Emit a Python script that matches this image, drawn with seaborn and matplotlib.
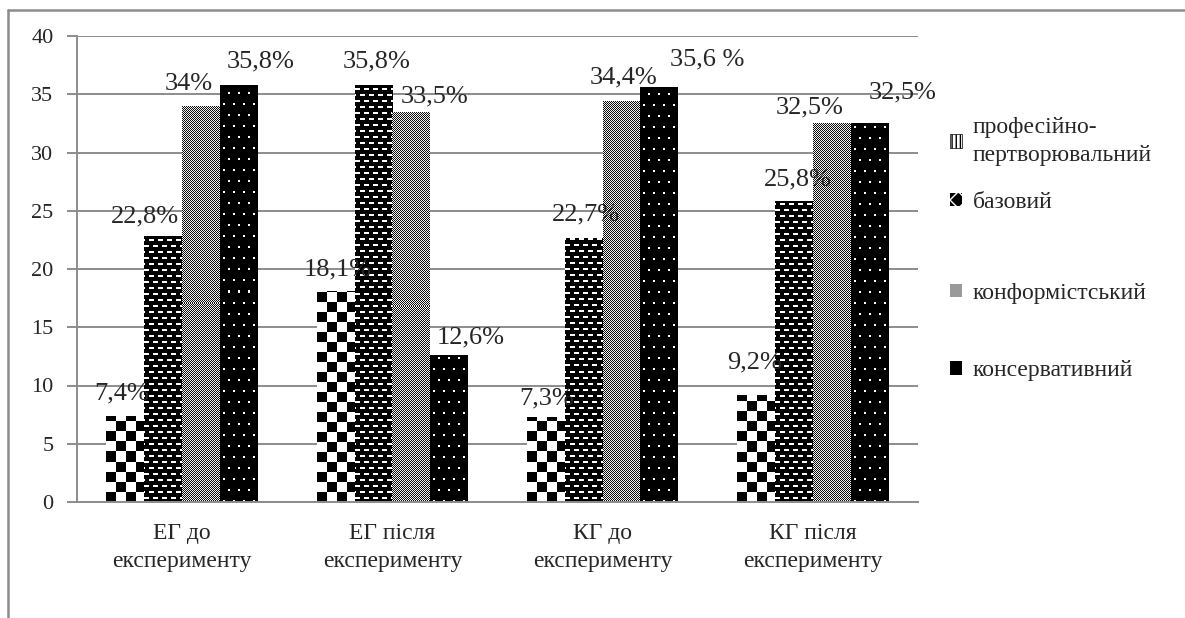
import numpy as np
import pandas as pd
import matplotlib
matplotlib.use("Agg")
from matplotlib import pyplot as plt
from matplotlib.patches import Patch
import seaborn as sns

# data
groups = ["ЕГ до\nексперименту", "ЕГ після\nексперименту",
          "КГ до\nексперименту", "КГ після\nексперименту"]
levels = ["професійно-\nпертворювальний", "базовий", "конформістський", "консервативний"]
prof = [7.4, 18.1, 7.3, 9.2]
baz = [22.8, 35.8, 22.7, 25.8]
konf = [34.0, 33.5, 34.4, 32.5]
kons = [35.8, 12.6, 35.6, 32.5]
prof_lbl = ["7,4%", "18,1%", "7,3%", "9,2%"]
baz_lbl = ["22,8%", "35,8%", "22,7%", "25,8%"]
konf_lbl = ["34%", "33,5%", "34,4%", "32,5%"]
kons_lbl = ["35,8%", "12,6%", "35,6 %", "32,5%"]

# label nudges (pixels) the way the labels sit in the original
lbl_dx = [[-4, 2, 1, -2], [-18, 3, 2, 4], [-12, 23, 2, -22], [22, 22, 48, 33]]
lbl_gap = [[16, 16, 13, 26], [14, 17, 17, 16], [16, 9, 18, 10], [17, 12, 22, 25]]

df = pd.DataFrame({
    "group": groups * 4,
    "level": sum([[l] * 4 for l in levels], []),
    "value": prof + baz + konf + kons,
})

sns.set_style("white")
plt.rcParams["font.family"] = ["Liberation Serif", "DejaVu Serif"]
GRAY = "#8c8c8c"

fig = plt.figure(figsize=(11.85, 6.18), dpi=100)
ax = fig.add_axes([77 / 1185, 1 - 502 / 618, (918 - 77) / 1185, (502 - 36) / 618])

sns.barplot(data=df, x="group", y="value", hue="level", hue_order=levels,
            palette=["white"] * 4, width=0.72, gap=0, saturation=1,
            edgecolor="none", linewidth=0, legend=False, ax=ax, zorder=2)
ax.set_ylim(0, 40)
ax.set_xlim(-0.5, 3.5)


# pixel textures, like the Excel pattern fills
def tex_checker(h, w):
    i, j = np.mgrid[0:h, 0:w]
    return ((i // 10 + j // 10) % 2).astype(float)


def tex_bricks(h, w):
    i, j = np.mgrid[0:h, 0:w]
    off = np.where((i // 6) % 2 == 1, 4, 0)
    return (((i % 6) >= 3) & ((i % 6) <= 4) & (((j + off) % 9) < 5)).astype(float)


def tex_fine(h, w):
    i, j = np.mgrid[0:h, 0:w]
    return ((i + j) % 2).astype(float) * 0.9 + 0.05


def tex_dots(h, w):
    i, j = np.mgrid[0:h, 0:w]
    off = np.where((i // 11) % 2 == 1, 5, 0)
    return (((i % 11) < 2) & (((j + off - 3) % 10) < 2)).astype(float)


textures = [tex_checker, tex_bricks, tex_fine, tex_dots]
labels = [prof_lbl, baz_lbl, konf_lbl, kons_lbl]

for k, cont in enumerate(ax.containers):
    for n, bar in enumerate(cont):
        x0, w, hgt = bar.get_x(), bar.get_width(), bar.get_height()
        (px0, py0), (px1, py1) = ax.transData.transform([(x0, 0), (x0 + w, hgt)])
        npx, npy = max(int(round(px1 - px0)), 1), max(int(round(py1 - py0)), 1)
        img = textures[k](npy, npx)
        im = ax.imshow(img, cmap="gray", vmin=0, vmax=1, origin="lower",
                       extent=[x0, x0 + w, 0, hgt], aspect="auto",
                       interpolation="nearest", zorder=2.5)
        im.set_clip_path(bar)
        ax.annotate(labels[k][n], xy=(x0 + w / 2, hgt),
                    xytext=(lbl_dx[k][n] * 0.72, lbl_gap[k][n] * 0.72),
                    textcoords="offset points", ha="center", va="baseline",
                    fontsize=19, zorder=4)

ax.set_ylim(0, 40)
ax.set_xlim(-0.5, 3.5)
ax.set_yticks(np.arange(0, 41, 5))
ax.yaxis.grid(True, color=GRAY, linewidth=1.4)
ax.set_axisbelow(True)
ax.set_xlabel("")
ax.set_ylabel("")
ax.set_xticks(np.arange(-0.5, 4, 1), minor=True)
ax.tick_params(axis="x", which="major", length=0, labelsize=17, pad=15)
ax.tick_params(axis="x", which="minor", length=7, color=GRAY, width=1.4, direction="out")
ax.tick_params(axis="y", length=7, color=GRAY, width=1.4, labelsize=16, left=True,
               direction="out", pad=10)
for lbl in ax.get_xticklabels():
    lbl.set_linespacing(1.45)
for s in ["top", "right"]:
    ax.spines[s].set_visible(False)
for s in ["left", "bottom"]:
    ax.spines[s].set_color(GRAY)
    ax.spines[s].set_linewidth(1.4)

# legend with small square markers, laid out in two blocks as in the original
handles = [
    Patch(facecolor="white", edgecolor="black", hatch="||||", linewidth=0.5),
    Patch(facecolor="black", edgecolor="white", hatch="xx", linewidth=0),
    Patch(facecolor="#9a9a9a", edgecolor="none"),
    Patch(facecolor="black", edgecolor="none"),
]
common = dict(frameon=False, fontsize=17, handlelength=0.5, handleheight=0.5,
              handletextpad=0.45, borderpad=0, borderaxespad=0, loc="center left")
leg1 = fig.legend(handles[:2], levels[:2], bbox_to_anchor=(950 / 1185, 1 - 165 / 618),
                  labelspacing=1.1, **common)
for t in leg1.get_texts():
    t.set_linespacing(1.4)
fig.legend(handles[2:], levels[2:], bbox_to_anchor=(950 / 1185, 1 - 332 / 618),
           labelspacing=2.4, **common)

# outer chart border (top and left parts visible)
fig.add_artist(plt.Line2D([8 / 1185, 1], [1 - 10 / 618] * 2, color=GRAY, lw=1.8,
                          transform=fig.transFigure))
fig.add_artist(plt.Line2D([8 / 1185] * 2, [0, 1 - 10 / 618], color=GRAY, lw=1.8,
                          transform=fig.transFigure))

fig.savefig("out.png", dpi=100)
